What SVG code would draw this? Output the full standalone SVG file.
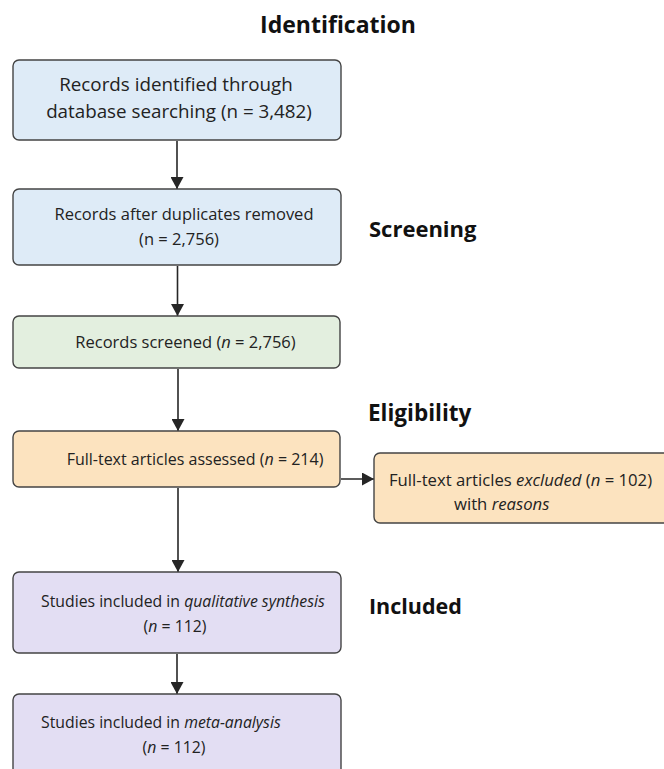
<svg xmlns="http://www.w3.org/2000/svg" width="664" height="769" viewBox="0 0 664 769">
<defs>
<marker id="ah" markerUnits="userSpaceOnUse" markerWidth="13" markerHeight="13" refX="12" refY="6.5" orient="auto">
<path d="M0,0 L12,6.5 L0,13 z" fill="#262626"/>
</marker>
<style>
.box{stroke:#444;stroke-width:1.4}
.blue{fill:#deebf7}
.green{fill:#e3efdf}
.orange{fill:#fce3bf}
.purple{fill:#e3def3}
.t{font-family:"Open Sans","Liberation Sans",sans-serif;fill:#222}
.h{font-family:"Open Sans","Liberation Sans",sans-serif;font-weight:bold;fill:#111}
.c{text-anchor:middle}
.i{font-style:italic}
.conn{stroke:#262626;stroke-width:1.6;fill:none}
</style>
</defs>
<rect width="664" height="769" fill="#ffffff"/>
<g id="headings">
<text class="h c" x="338" y="33" font-size="23">Identification</text>
<text class="h" x="369" y="237" font-size="22">Screening</text>
<text class="h" x="368" y="421" font-size="22.5">Eligibility</text>
<text class="h" x="369" y="614" font-size="21.5">Included</text>
</g>
<g id="connectors">
<line class="conn" x1="177" y1="141" x2="177" y2="189" marker-end="url(#ah)"/>
<line class="conn" x1="177.5" y1="266" x2="177.5" y2="316" marker-end="url(#ah)"/>
<line class="conn" x1="178" y1="369" x2="178" y2="431" marker-end="url(#ah)"/>
<line class="conn" x1="341" y1="479" x2="374" y2="479" marker-end="url(#ah)"/>
<line class="conn" x1="178" y1="488" x2="178" y2="572" marker-end="url(#ah)"/>
<line class="conn" x1="177" y1="654" x2="177" y2="694" marker-end="url(#ah)"/>
</g>
<g id="n1">
<rect class="box blue" x="13" y="60" width="328" height="80" rx="6"/>
<text class="t c" x="176" y="91" font-size="18.8">Records identified through</text>
<text class="t c" x="179" y="118" font-size="18.8">database searching (n = 3,482)</text>
</g>
<g id="n2">
<rect class="box blue" x="13" y="189" width="328" height="76" rx="6"/>
<text class="t c" x="184" y="220" font-size="16.5">Records after duplicates removed</text>
<text class="t c" x="179" y="245" font-size="16.5">(n = 2,756)</text>
</g>
<g id="n3">
<rect class="box green" x="13" y="316" width="327" height="52" rx="6"/>
<text class="t c" x="185.5" y="348" font-size="16.5">Records screened (<tspan class="i">n</tspan> = 2,756)</text>
</g>
<g id="n4">
<rect class="box orange" x="13" y="431" width="327" height="56" rx="6"/>
<text class="t c" x="195" y="465" font-size="16">Full-text articles assessed (<tspan class="i">n</tspan> = 214)</text>
</g>
<g id="n5">
<rect class="box orange" x="374" y="453" width="310" height="70" rx="6"/>
<text class="t" x="389" y="486" font-size="16.7">Full-text articles <tspan class="i">excluded</tspan> (<tspan class="i">n</tspan> = 102)</text>
<text class="t" x="454" y="510" font-size="16.7">with <tspan class="i">reasons</tspan></text>
</g>
<g id="n6">
<rect class="box purple" x="13" y="572" width="328" height="81" rx="6"/>
<text class="t" x="41" y="607" font-size="15.8">Studies included in <tspan class="i">qualitative synthesis</tspan></text>
<text class="t c" x="175" y="632" font-size="15.8">(<tspan class="i">n</tspan> = 112)</text>
</g>
<g id="n7">
<rect class="box purple" x="13" y="694" width="328" height="90" rx="6"/>
<text class="t" x="41" y="728" font-size="15.8">Studies included in <tspan class="i">meta-analysis</tspan></text>
<text class="t c" x="174" y="753" font-size="15.8">(<tspan class="i">n</tspan> = 112)</text>
</g>
</svg>
